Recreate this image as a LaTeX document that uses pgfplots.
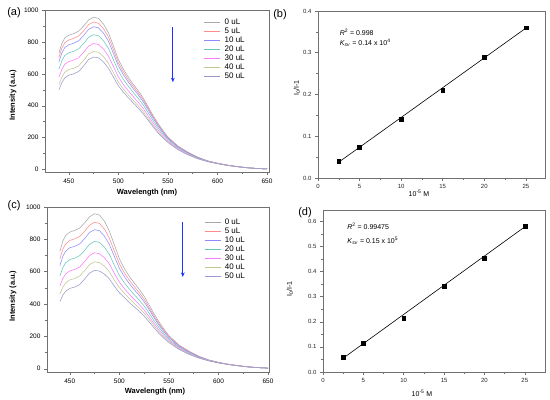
\documentclass[border=0pt]{standalone}
\usepackage{pgfplots}
\pgfplotsset{compat=1.18}
\usepackage{pgfplotstable}
\usepackage{fontspec}
\setmainfont{Liberation Sans}
\usetikzlibrary{arrows.meta}

\definecolor{c0}{HTML}{A8A8A8}
\definecolor{c5}{HTML}{FF8C8C}
\definecolor{c10}{HTML}{8C8CFF}
\definecolor{c20}{HTML}{66C8BC}
\definecolor{c30}{HTML}{FF7AFF}
\definecolor{c40}{HTML}{C4C494}
\definecolor{c50}{HTML}{9A9ACC}
\definecolor{axgray}{HTML}{707070}
\definecolor{arrowblue}{HTML}{1E32FF}

\pgfplotstableread{
wl c0 c5 c10 c20 c30 c40 c50
440 730 702 675 629 578 532 500
443 790 761 731 682 628 579 545
446 825 795 765 715 660 610 575
450 842 812 782 732 677 627 592
455 852 822 792 741 686 635 600
460 868 838 807 757 701 650 615
465 900 870 840 790 735 685 650
470 938 908 879 829 774 725 690
475 955 925 895 845 790 740 705
480 947 917 888 838 784 735 700
485 912 884 855 808 756 708 675
490 858 831 805 760 711 666 635
495 775 752 728 689 646 607 580
500 690 670 650 617 581 548 525
505 630 613 595 566 534 505 485
510 580 564 549 523 494 468 450
515 535 521 507 484 458 434 418
520 495 482 469 447 422 400 385
525 450 438 426 406 384 364 350
530 395 385 375 358 339 322 310
535 340 331 323 308 292 278 268
540 290 283 276 264 250 238 230
545 245 239 234 224 214 205 198
550 205 201 197 190 182 175 170
560 148 145 143 138 133 128 125
570 110 108 106 103 99 95 93
580 78 77 76 74 71 69 68
590 55 54 54 53 52 51 50
600 40 40 39 39 38 37 37
610 28 28 28 27 27 26 26
620 19 19 19 19 18 18 18
630 12 12 12 12 11 11 11
640 7 7 7 7 7 7 7
650 4 4 4 4 4 4 4
}\specA

\pgfplotstableread{
wl c0 c5 c10 c20 c30 c40 c50
440 725 679 638 573 511 462 415
443 790 740 696 626 559 505 455
446 825 773 728 656 587 532 480
450 845 793 748 675 605 549 497
455 855 803 757 684 614 558 505
460 870 818 772 699 629 573 520
465 902 850 805 732 663 607 555
470 940 888 843 770 700 644 592
475 958 906 860 787 717 661 608
480 950 898 853 781 711 656 604
485 912 863 820 752 686 634 585
490 850 806 767 706 647 599 555
495 765 727 694 640 589 548 510
500 680 649 621 577 535 502 470
505 620 593 570 532 496 467 440
510 572 548 527 493 460 434 410
515 530 508 489 458 429 405 383
520 492 472 454 425 398 376 355
525 448 430 414 388 363 344 325
530 395 379 366 344 323 306 290
535 340 327 316 297 280 266 253
540 290 279 270 255 240 229 218
545 245 237 229 217 206 197 188
550 205 199 193 184 175 169 162
560 148 144 140 134 129 124 120
570 110 107 104 100 96 93 90
580 78 76 75 72 70 68 66
590 55 54 53 52 51 50 49
600 40 39 39 38 37 37 36
610 28 28 27 27 27 26 26
620 19 19 19 19 18 18 18
630 12 12 12 12 11 11 11
640 7 7 7 7 7 7 7
650 4 4 4 4 4 4 4
}\specC

\pgfplotstableread{
x y
2.5 0.040
5 0.073
10 0.140
15 0.210
20 0.290
25 0.360
}\linB

\pgfplotstableread{
x y
2.5 0.038
25 0.359
}\fitB

\pgfplotstableread{
x y
2.5 0.058
5 0.115
10 0.215
15 0.343
20 0.453
25 0.580
}\linD

\pgfplotstableread{
x y
2.5 0.055
25 0.578
}\fitD

\pgfplotsset{
  baseax/.style={
    scale only axis,
    axis line style={draw=axgray, line width=0.6pt},
    tick style={draw=axgray, line width=0.5pt},
    tick align=outside,
    tick pos=left,
    major tick length=3pt,
    minor tick length=1.8pt,
    /pgf/number format/assume math mode=true,
    /pgf/number format/1000 sep={},
  },
  specax/.style={
    baseax,
    ymin=-15, ymax=1000,
    xtick={450,500,550,600,650},
    minor x tick num=1,
    ytick={0,200,400,600,800,1000},
    minor y tick num=1,
    tick label style={font=\fontsize{6.5}{7}\selectfont},
    legend style={draw=none, fill=none, font=\fontsize{8}{8}\selectfont,
      anchor=north west, row sep=1.2pt,
      nodes={inner sep=1pt, text height=5.6pt, text depth=0.2pt},
      /tikz/column sep=3pt},
    legend cell align=left,
    legend image code/.code={\draw[#1] (0pt,0pt) -- (16pt,0pt);},
  },
  linax/.style={
    baseax,
    xmin=0, ymin=0,
    xtick={0,5,10,15,20,25},
    minor x tick num=1,
    minor y tick num=1,
    tick label style={font=\fontsize{6}{7}\selectfont, text=black!85},
    yticklabel style={/pgf/number format/.cd, fixed, fixed zerofill, precision=1},
  },
  sp/.style={line width=0.55pt},
}

\begin{document}
\begin{tikzpicture}[x=1pt,y=1pt]
\path (0,0) rectangle (550,399);

% ---------- (a) ----------
\begin{axis}[specax, at={(45pt,227pt)}, anchor=south west,
  width=224pt, height=162pt, xmin=426, xmax=652,
  legend style={at={(0.696,0.962)}}]
\addplot[sp, c0]  table[x=wl, y=c0]  {\specA};
\addplot[sp, c5]  table[x=wl, y=c5]  {\specA};
\addplot[sp, c10] table[x=wl, y=c10] {\specA};
\addplot[sp, c20] table[x=wl, y=c20] {\specA};
\addplot[sp, c30] table[x=wl, y=c30] {\specA};
\addplot[sp, c40] table[x=wl, y=c40] {\specA};
\addplot[sp, c50] table[x=wl, y=c50] {\specA};
\legend{0 uL,5 uL,10 uL,20 uL,30 uL,40 uL,50 uL}
\draw[arrowblue, line width=1.1pt, -{Stealth[length=4.5pt,width=3.8pt]}] (axis cs:555,894) -- (axis cs:555,548);
\end{axis}

% ---------- (b) ----------
\begin{axis}[linax, at={(318pt,221pt)}, anchor=south west,
  width=227pt, height=167pt, xmax=27.3, ymax=0.4,
  ytick={0,0.1,0.2,0.3,0.4}]
\addplot[black, line width=0.6pt] table[x=x, y=y] {\fitB};
\addplot[only marks, mark=square*, mark size=1.9pt, black] table[x=x, y=y] {\linB};
\node[anchor=west, font=\fontsize{7}{8}\selectfont, inner sep=0pt] at (axis cs:2.6,0.35) {\textit{R}\textsuperscript{2} = 0.998};
\node[anchor=west, font=\fontsize{7}{8}\selectfont, inner sep=0pt] at (axis cs:2.6,0.323) {\textit{K}\textsubscript{\textit{sv}} = 0.14 x 10\textsuperscript{4}};
\end{axis}

% ---------- (c) ----------
\begin{axis}[specax, at={(47pt,27pt)}, anchor=south west,
  width=222pt, height=165pt, xmin=427, xmax=651, ymin=-20,
  legend style={at={(0.694,0.945)}}]
\addplot[sp, c0]  table[x=wl, y=c0]  {\specC};
\addplot[sp, c5]  table[x=wl, y=c5]  {\specC};
\addplot[sp, c10] table[x=wl, y=c10] {\specC};
\addplot[sp, c20] table[x=wl, y=c20] {\specC};
\addplot[sp, c30] table[x=wl, y=c30] {\specC};
\addplot[sp, c40] table[x=wl, y=c40] {\specC};
\addplot[sp, c50] table[x=wl, y=c50] {\specC};
\legend{0 uL,5 uL,10 uL,20 uL,30 uL,40 uL,50 uL}
\draw[arrowblue, line width=1.1pt, -{Stealth[length=4.5pt,width=3.8pt]}] (axis cs:564,905) -- (axis cs:564,568);
\end{axis}

% ---------- (d) ----------
\begin{axis}[linax, at={(323pt,27pt)}, anchor=south west,
  width=222pt, height=162pt, xmax=27.5, ymax=0.645,
  ytick={0,0.1,0.2,0.3,0.4,0.5,0.6}]
\addplot[black, line width=0.6pt] table[x=x, y=y] {\fitD};
\addplot[only marks, mark=square*, mark size=1.9pt, black] table[x=x, y=y] {\linD};
\node[anchor=west, font=\fontsize{7}{8}\selectfont, inner sep=0pt] at (axis cs:3.0,0.58) {\textit{R}\textsuperscript{2} = 0.99475};
\node[anchor=west, font=\fontsize{7}{8}\selectfont, inner sep=0pt] at (axis cs:3.0,0.524) {\textit{K}\textsubscript{\textit{sv}} = 0.15 x 10\textsuperscript{5}};
\end{axis}

% ---------- labels ----------
\node[font=\fontsize{7.5}{8}\selectfont\bfseries] at (147,206) {Wavelength (nm)};
\node[font=\fontsize{7.5}{8}\selectfont\bfseries, rotate=90] at (13,304) {Intensity (a.u.)};
\node[font=\fontsize{7.5}{8}\selectfont\bfseries] at (155,7) {Wavelength (nm)};
\node[font=\fontsize{7.5}{8}\selectfont\bfseries, rotate=90] at (13,103) {Intensity (a.u.)};
\node[font=\fontsize{7}{8}\selectfont] at (419,206) {10\textsuperscript{-5} M};
\node[font=\fontsize{7}{8}\selectfont, rotate=90] at (297,311) {I\textsubscript{0}/I-1};
\node[font=\fontsize{7}{8}\selectfont] at (422,6) {10\textsuperscript{-5} M};
\node[font=\fontsize{7}{8}\selectfont, rotate=90] at (290,110) {I\textsubscript{0}/I-1};

\node[font=\fontsize{11}{12}\selectfont] at (14,386) {(a)};
\node[font=\fontsize{11}{12}\selectfont] at (280,384) {(b)};
\node[font=\fontsize{11}{12}\selectfont] at (14,193) {(c)};
\node[font=\fontsize{11}{12}\selectfont] at (305,186) {(d)};
\end{tikzpicture}
\end{document}
